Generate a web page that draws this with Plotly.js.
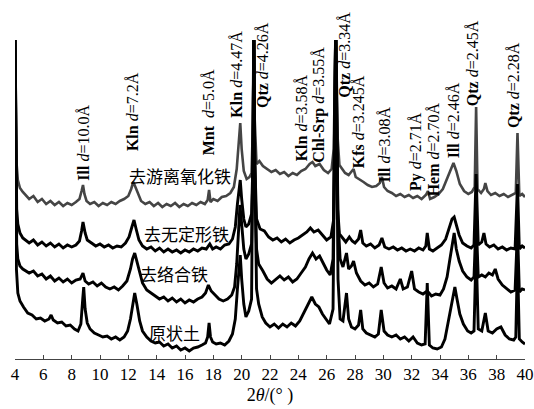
<!DOCTYPE html>
<html>
<head>
<meta charset="utf-8">
<script src="https://cdn.plot.ly/plotly-3.0.1.min.js"></script>
<style>html,body{margin:0;padding:0;background:#fff;}#chart{width:534px;height:409px;}</style>
</head>
<body>
<div id="chart"></div>
<script>
// ---- series: 2θ (°) and relative intensity (arbitrary, stacked) ----
const x_free = [4.00,4.05,4.12,4.2,4.35,4.55,4.8,5.0,5.3,5.6,5.9,6.2,6.5,6.8,7.1,7.4,7.7,8.0,8.3,8.55,8.7,8.8,8.9,9.05,9.3,9.6,9.9,10.2,10.5,10.8,11.1,11.4,11.7,12.0,12.2,12.35,12.5,12.7,12.9,13.2,13.5,13.8,14.1,14.4,14.7,15.0,15.3,15.6,15.9,16.2,16.5,16.8,17.1,17.4,17.6,17.7,17.8,18.0,18.3,18.6,18.9,19.2,19.45,19.65,19.8,19.9,20.0,20.15,20.35,20.55,20.7,20.8,20.86,20.92,21.05,21.25,21.5,21.8,22.1,22.4,22.7,23.0,23.3,23.6,23.9,24.2,24.5,24.8,25.0,25.2,25.5,25.8,26.1,26.35,26.5,26.64,26.78,26.9,27.1,27.3,27.55,27.8,27.9,28.05,28.3,28.6,28.9,29.2,29.5,29.75,29.9,30.05,30.3,30.6,30.9,31.2,31.5,31.8,32.1,32.4,32.7,33.0,33.15,33.3,33.6,33.9,34.2,34.5,34.75,34.95,35.15,35.4,35.7,36.0,36.25,36.45,36.55,36.65,36.9,37.1,37.2,37.35,37.6,37.9,38.2,38.5,38.8,39.1,39.35,39.47,39.6,39.8,40.0];
const y_free = [330,239,194,179,171,167,163,160,163,157,160,155,158,154,157,153,156,154,157,160,168,174,165,158,155,157,153,156,154,157,155,158,160,163,170,177,172,164,158,155,157,153,156,152,155,153,156,152,155,153,156,154,157,155,159,169,157,160,158,162,163,166,172,190,215,236,210,188,180,182,186,240,340,240,195,198,193,190,187,189,185,187,183,186,184,188,190,195,197,193,195,189,186,190,210,340,220,194,190,186,184,188,190,182,180,177,174,172,173,176,182,172,168,166,163,165,162,164,161,163,160,164,168,160,162,165,170,180,190,196,188,175,168,165,167,172,252,170,166,170,176,168,164,166,163,165,162,164,166,226,163,165,162];

const x_amor = [4.00,4.05,4.12,4.2,4.35,4.55,4.8,5.0,5.3,5.6,5.9,6.2,6.5,6.8,7.1,7.4,7.7,8.0,8.3,8.55,8.7,8.8,8.95,9.1,9.4,9.7,10.0,10.3,10.6,10.9,11.2,11.5,11.8,12.05,12.25,12.4,12.55,12.75,13.0,13.3,13.6,13.9,14.2,14.5,14.8,15.1,15.4,15.7,16.0,16.3,16.6,16.9,17.2,17.5,17.75,17.95,18.2,18.5,18.8,19.1,19.35,19.55,19.7,19.82,19.9,20.0,20.15,20.3,20.5,20.7,20.8,20.86,20.92,21.05,21.3,21.6,21.9,22.2,22.5,22.8,23.1,23.4,23.7,24.0,24.3,24.6,24.85,25.1,25.4,25.7,26.0,26.3,26.5,26.64,26.78,26.9,27.1,27.35,27.6,27.8,28.0,28.25,28.4,28.55,28.8,29.1,29.4,29.7,29.9,30.1,30.4,30.7,31.0,31.3,31.6,31.9,32.2,32.5,32.8,33.0,33.1,33.25,33.5,33.8,34.1,34.4,34.65,34.85,35.0,35.15,35.35,35.6,35.9,36.2,36.4,36.55,36.7,36.95,37.1,37.25,37.5,37.8,38.1,38.4,38.7,39.0,39.3,39.47,39.6,39.8,40.0];
const y_amor = [330,200,150,135,126,121,118,116,119,114,117,113,116,112,115,111,114,112,114,118,128,137,126,119,116,113,115,112,114,111,113,112,116,122,132,139,130,119,113,110,112,108,111,107,110,107,109,106,109,107,110,108,111,110,115,110,112,110,114,115,120,132,155,170,179,160,140,132,135,145,200,340,200,140,130,128,122,119,121,117,120,116,119,121,124,127,131,127,129,124,119,122,140,340,150,125,121,117,122,118,116,120,129,116,113,115,111,114,121,112,110,112,109,111,108,110,108,111,109,113,126,110,108,111,114,120,130,140,142,135,124,116,113,111,114,185,114,117,126,115,112,114,110,112,109,111,110,175,110,113,111];

const x_comp = [4.00,4.05,4.12,4.2,4.35,4.55,4.8,5.0,5.3,5.6,5.9,6.2,6.5,6.8,7.1,7.4,7.7,8.0,8.3,8.6,8.8,8.95,9.2,9.5,9.8,10.1,10.4,10.7,11.0,11.3,11.6,11.9,12.15,12.3,12.45,12.6,12.8,13.0,13.3,13.6,13.9,14.2,14.5,14.8,15.1,15.4,15.7,16.0,16.3,16.6,16.9,17.2,17.45,17.65,17.85,18.1,18.4,18.7,19.0,19.3,19.5,19.65,19.78,19.88,20.0,20.15,20.3,20.5,20.7,20.8,20.86,20.92,21.05,21.2,21.5,21.8,22.1,22.4,22.7,23.0,23.3,23.6,23.9,24.2,24.5,24.75,25.0,25.25,25.5,25.75,26.0,26.25,26.45,26.64,26.8,26.95,27.15,27.4,27.55,27.75,27.9,28.1,28.4,28.7,29.0,29.3,29.6,29.85,30.05,30.3,30.6,30.9,31.2,31.4,31.7,32.0,32.2,32.5,32.8,33.1,33.4,33.7,34.0,34.25,34.5,34.7,34.85,35.0,35.15,35.35,35.6,35.9,36.2,36.4,36.55,36.7,36.95,37.2,37.45,37.7,37.9,38.1,38.4,38.7,39.0,39.3,39.47,39.6,39.8,40.0];
const y_comp = [330,180,115,100,93,90,88,86,88,83,85,80,83,78,81,77,80,76,79,80,86,78,75,77,73,76,72,70,72,69,73,78,90,100,106,98,86,76,69,66,63,60,62,58,61,57,60,56,59,57,60,62,66,74,68,64,60,58,60,64,72,95,130,154,135,110,100,105,115,200,340,200,110,95,88,80,76,80,83,79,82,77,80,86,92,100,106,100,103,96,89,84,100,340,140,100,92,106,90,93,98,86,78,74,76,72,75,92,76,71,73,70,80,70,72,88,70,67,65,68,63,65,64,70,82,100,115,126,110,98,88,82,79,82,140,82,84,82,86,84,90,80,74,70,67,69,130,67,70,69];

const x_raw = [4.00,4.04,4.1,4.2,4.35,4.6,4.9,5.2,5.5,5.8,6.1,6.4,6.55,6.7,7.0,7.3,7.6,7.9,8.2,8.45,8.65,8.78,8.85,8.95,9.1,9.3,9.6,9.9,10.2,10.5,10.8,11.1,11.4,11.7,11.95,12.15,12.3,12.45,12.6,12.8,13.0,13.3,13.6,13.9,14.2,14.5,14.8,15.1,15.4,15.7,16.0,16.3,16.6,16.9,17.2,17.45,17.6,17.7,17.8,17.95,18.2,18.5,18.8,19.1,19.35,19.55,19.7,19.82,19.9,20.0,20.15,20.3,20.5,20.7,20.8,20.86,20.92,21.05,21.2,21.45,21.7,22.0,22.3,22.6,22.9,23.2,23.5,23.8,24.1,24.4,24.7,24.95,25.2,25.45,25.7,25.95,26.2,26.45,26.64,26.8,26.95,27.15,27.4,27.55,27.75,28.0,28.25,28.4,28.55,28.8,29.1,29.4,29.65,29.85,30.05,30.3,30.6,30.9,31.2,31.5,31.8,32.1,32.4,32.7,32.95,33.1,33.25,33.5,33.8,34.1,34.35,34.55,34.75,34.92,35.05,35.2,35.4,35.65,35.95,36.2,36.4,36.55,36.7,36.95,37.2,37.4,37.7,38.0,38.3,38.6,38.9,39.2,39.35,39.47,39.6,39.8,40.0];
const y_raw = [330,150,90,66,58,52,46,44,40,41,38,40,44,39,36,37,33,34,30,28,35,60,72,50,36,30,26,24,22,23,20,22,19,22,28,40,52,66,55,38,28,22,18,16,17,13,15,11,13,9,11,8,11,12,14,16,22,36,22,17,15,16,14,18,25,40,70,95,104,80,55,42,48,60,200,340,200,70,55,42,36,32,35,31,35,32,36,33,38,46,55,62,55,52,45,40,35,50,340,80,40,38,66,40,32,30,34,49,30,26,24,22,25,49,28,24,22,24,20,22,18,22,16,14,15,76,14,11,10,12,20,35,52,66,72,60,45,35,28,26,28,110,30,28,46,28,26,30,32,24,20,19,22,100,20,17,15];

// ---- labels ----
const sampleNames = ["去游离氧化铁","去无定形铁","去络合铁","原状土"];
const sampleLabelX = [15.67,16.13,15.25,15.25];
const tickVals = [4,6,8,10,12,14,16,18,20,22,24,26,28,30,32,34,36,38,40];
const peakLabels = [
  "<b>Ill</b> <i>d</i>=10.0Å",
  "<b>Kln</b> <i>d</i>=7.2Å",
  "<b>Mnt</b>  <i>d</i>=5.0Å",
  "<b>Kln</b> <i>d</i>=4.47Å",
  "<b>Qtz</b> <i>d</i>=4.26Å",
  "<b>Kln</b> <i>d</i>=3.58Å",
  "<b>Chl-Srp</b> <i>d</i>=3.55Å",
  "<b>Qtz</b> <i>d</i>=3.34Å",
  "<b>Kfs</b> <i>d</i>=3.245Å",
  "<b>Ill</b> <i>d</i>=3.08Å",
  "<b>Py</b> <i>d</i>=2.71Å",
  "<b>Hem</b> <i>d</i>=2.70Å",
  "<b>Ill</b> <i>d</i>=2.46Å",
  "<b>Qtz</b> <i>d</i>=2.45Å",
  "<b>Qtz</b> <i>d</i>=2.28Å"
];
const peakLabelX = [8.78,12.30,17.64,19.61,21.44,24.25,25.45,27.2,28.26,30.02,32.27,33.53,34.94,36.27,39.16];

// ---- layout-only placement ----
const peakLabelBase = [176,206,202,239,249,196,194,259,189,174,166,161,199,251,229];
const sampleLabelY = [184,126,86,27];

const serif = "Liberation Serif";
const cjk = "Noto Sans CJK SC";

const traces = [
  {x:x_free, y:y_free, name:sampleNames[0], line:{color:'#454545', width:2.6}},
  {x:x_amor, y:y_amor, name:sampleNames[1], line:{color:'#000', width:2.9}},
  {x:x_comp, y:y_comp, name:sampleNames[2], line:{color:'#000', width:2.9}},
  {x:x_raw,  y:y_raw,  name:sampleNames[3], line:{color:'#000', width:2.9}}
].map(t => Object.assign({type:'scatter', mode:'lines', hoverinfo:'skip'}, t));

const annotations = [];
peakLabels.forEach((t,i) => annotations.push({
  x: peakLabelX[i], y: peakLabelBase[i], xref:'x', yref:'y', text:t, textangle:-90,
  showarrow:false, xanchor:'center', yanchor:'bottom',
  font:{family:serif, size:16, color:'#000'}
}));
sampleNames.forEach((t,i) => annotations.push({
  x: sampleLabelX[i], y: sampleLabelY[i], xref:'x', yref:'y', text:t,
  showarrow:false, xanchor:'center', yanchor:'middle',
  font:{family:cjk, size:17, color:'#000'}
}));

const layout = {
  width:534, height:409,
  margin:{l:15, r:9, t:40, b:50},
  paper_bgcolor:'#fff', plot_bgcolor:'#fff',
  showlegend:false,
  font:{family:serif, color:'#000'},
  xaxis:{
    range:[4,40], tickvals:tickVals, ticks:'inside', ticklen:4, tickwidth:1, tickcolor:'#444',
    showline:true, linecolor:'#444', linewidth:1, showgrid:false, zeroline:false,
    ticklabeloverflow:'allow',
    tickfont:{family:serif, size:17, color:'#000'},
    title:{text:'2<i>θ</i>/(° )', font:{family:serif, size:18, color:'#000'}, standoff:4}
  },
  yaxis:{range:[0,319], visible:false, showgrid:false, zeroline:false},
  annotations: annotations
};

Plotly.newPlot('chart', traces, layout, {staticPlot:true, displayModeBar:false});
</script>
</body>
</html>
